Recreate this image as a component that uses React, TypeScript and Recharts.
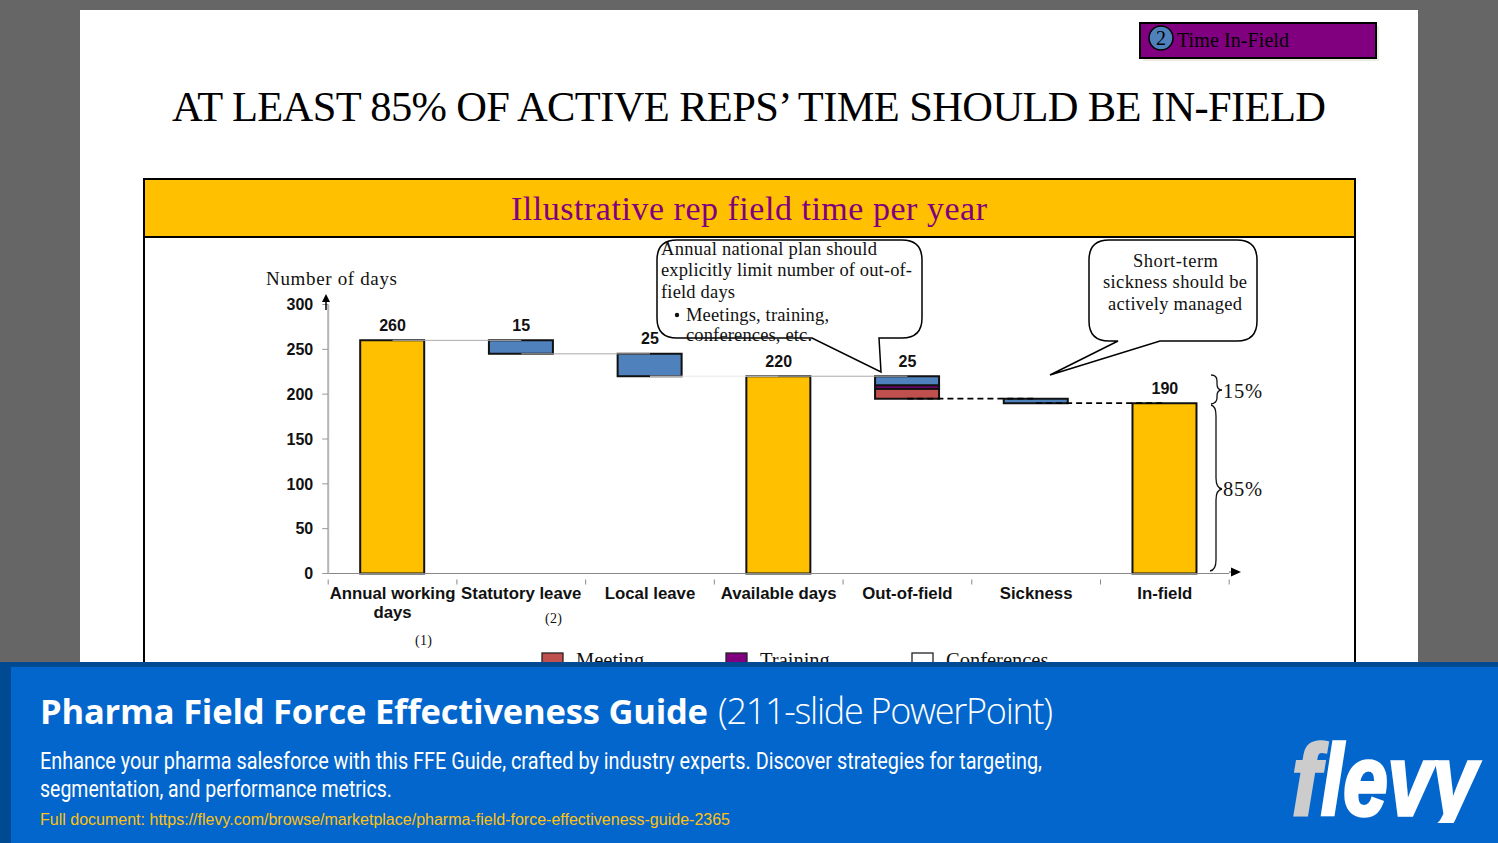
import React from 'react';
import { ComposedChart, Bar, Line, XAxis, YAxis, LabelList } from 'recharts';

const categories = ['Annual working days', 'Statutory leave', 'Local leave', 'Available days', 'Out-of-field', 'Sickness', 'In-field'];
const base = [null, 245, 220, null, 195, 190, null];
const totals = [260, null, null, 220, null, null, 190];
const leave = [null, 15, 25, null, null, 5, null];
const meeting = [null, null, null, null, 11, null, null];
const training = [null, null, null, null, 4, null, null];
const conferences = [null, null, null, null, 10, null, null];
const labelTops = [260, 260, 245, 220, 220, null, 190];
const labelTexts = ['260', '15', '25', '220', '25', null, '190'];
const connectors = [
  [260, 260, null, null, null, null, null],
  [null, 245, 245, null, null, null, null],
  [null, null, 220, 220, null, null, null],
  [null, null, null, 220, 220, null, null],
  [null, null, null, null, 195, 195, null],
  [null, null, null, null, null, 190, 190],
];
const yTicks = [0, 50, 100, 150, 200, 250, 300];
const legendNames = ['Meeting', 'Training', 'Conferences'];
const legendColors = ['#C0504D', '#800080', '#FFFFFF'];
const legendX = [542, 726, 912];

const rows = categories.map((name, i) => {
  const row: Record<string, any> = {
    name, base: base[i], totals: totals[i], leave: leave[i], meeting: meeting[i],
    training: training[i], conferences: conferences[i], labelTop: labelTops[i], labelText: labelTexts[i],
  };
  connectors.forEach((c, k) => { row['c' + k] = c[i]; });
  return row;
});

const SANS = '"Liberation Sans", Arial, sans-serif';
const SERIF = '"Liberation Serif", serif';
const BAND = 901 / 7;

const XTick = (props: any) => {
  const { x, y, payload, index } = props;
  const v: string = payload.value;
  const lines = v === 'Annual working days' ? ['Annual working', 'days'] : [v];
  const axisY = y - 2;
  return (
    <g>
      <line x1={x - BAND / 2} x2={x - BAND / 2} y1={axisY} y2={axisY + 5} stroke="#888" />
      {index === categories.length - 1 && (
        <line x1={x + BAND / 2} x2={x + BAND / 2} y1={axisY} y2={axisY + 5} stroke="#888" />
      )}
      <text x={x} textAnchor="middle" fontFamily={SANS} fontWeight={700} fontSize={16.8} fill="#111">
        {lines.map((l, i) => <tspan key={l} x={x} y={y + 17.3 + i * 19.5}>{l}</tspan>)}
      </text>
    </g>
  );
};

const T = ({ x, y, w, size = 18.5, children, fill = '#111', font = SERIF, weight = 400, adjust = 'spacing', style }: any) => (
  <text x={x} y={y} textLength={w} lengthAdjust={adjust} fontSize={size} fill={fill} fontFamily={font} fontWeight={weight} style={style}>{children}</text>
);

const barStroke = { stroke: '#111', strokeWidth: 2 };

export default function App() {
  return (
    <div style={{ position: 'absolute', left: 0, top: 0, width: 1498, height: 843, overflow: 'hidden', background: '#666666' }}>
      <div style={{ position: 'absolute', left: 80, top: 10, width: 1338, height: 833, background: '#fff' }} />
      <svg width={1498} height={843} style={{ position: 'absolute', left: 0, top: 0 }}>
        <rect x={1143} y={26} width={236} height={35} fill="#eeece1" />
        <rect x={1140} y={23} width={236} height={35} fill="#800080" stroke="#000" strokeWidth={2} />
        <circle cx={1161} cy={38} r={12} fill="#4F81BD" stroke="#000" strokeWidth={1.5} />
        <text x={1161} y={45} textAnchor="middle" fontSize={20} fontFamily={SERIF} fill="#000">2</text>
        <T x={1177} y={47} w={112} size={20} fill="#000">Time In-Field</T>
        <T x={172} y={121} w={1154} size={42.5} fill="#000">AT LEAST 85% OF ACTIVE REPS’ TIME SHOULD BE IN-FIELD</T>
        <rect x={144} y={179} width={1211} height={700} fill="#fff" stroke="#000" strokeWidth={2} />
        <rect x={144} y={179} width={1211} height={58} fill="#FFC000" stroke="#000" strokeWidth={2} />
        <T x={511} y={220} w={476} size={34} fill="#800080">Illustrative rep field time per year</T>
      </svg>
      <div style={{ position: 'absolute', left: 0, top: 0 }}>
        <ComposedChart width={1498} height={843} data={rows} barSize={64} margin={{ left: 268.2, right: 268.8, top: 304.5, bottom: 239.5 }}>
          <XAxis dataKey="name" height={30} tick={<XTick />} tickLine={false} interval={0} axisLine={{ stroke: '#888', strokeWidth: 1 }} />
          <YAxis width={60} domain={[0, 300]} ticks={yTicks} tickSize={6} tickMargin={9} interval={0}
            axisLine={{ stroke: '#b5b5b5', strokeWidth: 2 }} tickLine={{ stroke: '#999' }}
            tick={{ fontFamily: SANS, fontWeight: 700, fontSize: 16, fill: '#111' }} />
          {connectors.map((_, k) => (
            <Line key={k} dataKey={'c' + k} isAnimationActive={false} dot={false} activeDot={false} legendType="none"
              stroke={k >= 4 ? '#000' : k === 2 ? '#e8e8e8' : '#aaa'} strokeWidth={k >= 4 ? 1.8 : 1}
              strokeDasharray={k >= 4 ? '6 4' : undefined} />
          ))}
          <Bar dataKey="base" stackId="a" fill="none" stroke="none" isAnimationActive={false} />
          <Bar dataKey="totals" stackId="a" fill="#FFC000" {...barStroke} isAnimationActive={false} />
          <Bar dataKey="leave" stackId="a" fill="#4F81BD" {...barStroke} isAnimationActive={false} />
          <Bar dataKey="meeting" stackId="a" fill="#C0504D" {...barStroke} isAnimationActive={false} />
          <Bar dataKey="training" stackId="a" fill="#800080" {...barStroke} isAnimationActive={false} />
          <Bar dataKey="conferences" stackId="a" fill="#4F81BD" {...barStroke} isAnimationActive={false} />
          <Line dataKey="labelTop" stroke="none" dot={false} activeDot={false} isAnimationActive={false} legendType="none">
            <LabelList dataKey="labelText" position="top" offset={9.5} fontFamily={SANS} fontWeight={700} fontSize={16} fill="#111" />
          </Line>
        </ComposedChart>
      </div>
      <svg width={1498} height={843} style={{ position: 'absolute', left: 0, top: 0 }}>
        <defs>
          <clipPath id="logoClip"><rect x={1280} y={730} width={210} height={93} /></clipPath>
        </defs>
        <path d="M326 310 L326 300" stroke="#000" strokeWidth={1.5} />
        <path d="M326 294 L330 302 L322 302 Z" fill="#000" />
        <path d="M1229 572 L1233 572" stroke="#555" strokeWidth={1} />
        <path d="M1241 572 L1231 567.5 L1231 576.5 Z" fill="#000" />
        <T x={266} y={285} w={131} size={19}>Number of days</T>
        <T x={415} y={645} w={17} size={14}>(1)</T>
        <T x={545} y={623} w={17} size={14}>(2)</T>

        <path d="M677 240 H902 Q922 240 922 260 V318 Q922 338 902 338 H879 L881 372 L812 338 H677 Q657 338 657 318 V260 Q657 240 677 240 Z" fill="#fff" fillOpacity={0} stroke="#000" strokeWidth={1.5} />
        <T x={661} y={255} w={216}>Annual national plan should</T>
        <T x={661} y={276} w={251}>explicitly limit number of out-of-</T>
        <T x={661} y={298} w={74}>field days</T>
        <circle cx={677} cy={315} r={2.2} fill="#111" />
        <T x={686} y={321} w={143}>Meetings, training,</T>
        <T x={686} y={341} w={126}>conferences, etc.</T>

        <path d="M1109 240 H1237 Q1257 240 1257 260 V321 Q1257 341 1237 341 H1160 L1050 375 L1118 341 H1109 Q1089 341 1089 321 V260 Q1089 240 1109 240 Z" fill="#fff" stroke="#000" strokeWidth={1.5} />
        <T x={1133} y={267} w={85}>Short-term</T>
        <T x={1103} y={288} w={144}>sickness should be</T>
        <T x={1108} y={310} w={134}>actively managed</T>

        <path d="M1211 375 Q1217 375 1217 381 L1217 384 Q1217 390 1222 390 Q1217 390 1217 396 L1217 398 Q1217 403 1211 404" fill="none" stroke="#111" strokeWidth={1.3} />
        <path d="M1211 405 Q1216 406 1216 416 L1216 478 Q1216 488 1222 489 Q1216 490 1216 500 L1216 560 Q1216 570 1210 571" fill="none" stroke="#111" strokeWidth={1.3} />
        <T x={1223} y={398} w={39} size={20.5}>15%</T>
        <T x={1223} y={496} w={39} size={20.5}>85%</T>

        {legendNames.map((n, i) => (
          <g key={n}>
            <rect x={legendX[i]} y={653} width={21} height={20} fill={legendColors[i]} stroke="#222" strokeWidth={1.3} />
            <text x={legendX[i] + 34} y={667} fontSize={20.5} fontFamily={SERIF} fill="#111">{n}</text>
          </g>
        ))}

        <rect x={0} y={662} width={1498} height={181} fill="#004a94" />
        <rect x={11} y={667} width={1487} height={176} fill="#0366cc" />
        <T x={40} y={724} w={668} size={34.5} fill="#fff" font='"Open Sans", sans-serif' weight={700}>Pharma Field Force Effectiveness Guide</T>
        <T x={718} y={724} w={335} size={36} fill="#fff" font='"Open Sans", sans-serif' weight={300}>(211-slide PowerPoint)</T>
        <T x={40} y={769} w={1002} size={24} fill="#fff" font="Roboto, sans-serif" adjust="spacingAndGlyphs">Enhance your pharma salesforce with this FFE Guide, crafted by industry experts. Discover strategies for targeting,</T>
        <T x={40} y={797} w={352} size={24} fill="#fff" font="Roboto, sans-serif" adjust="spacingAndGlyphs">segmentation, and performance metrics.</T>
        <T x={40} y={825} w={690} size={16} fill="#FFC20E" font={SANS}>Full document: https://flevy.com/browse/marketplace/pharma-field-force-effectiveness-guide-2365</T>
        <g clipPath="url(#logoClip)">
          <text transform="translate(1292,815) scale(0.85,1)" x={0} y={0} fontSize={100} fontFamily={SANS} fontWeight={700} fontStyle="italic" fill="#cccccc" stroke="#cccccc" strokeWidth={3.5}>f</text>
          <text transform="translate(1321,815) scale(0.8,1)" x={0} y={0} fontSize={100} fontFamily={SANS} fontWeight={700} fontStyle="italic" fill="#ffffff" stroke="#ffffff" strokeWidth={3.5}>levy</text>
        </g>
      </svg>
    </div>
  );
}
